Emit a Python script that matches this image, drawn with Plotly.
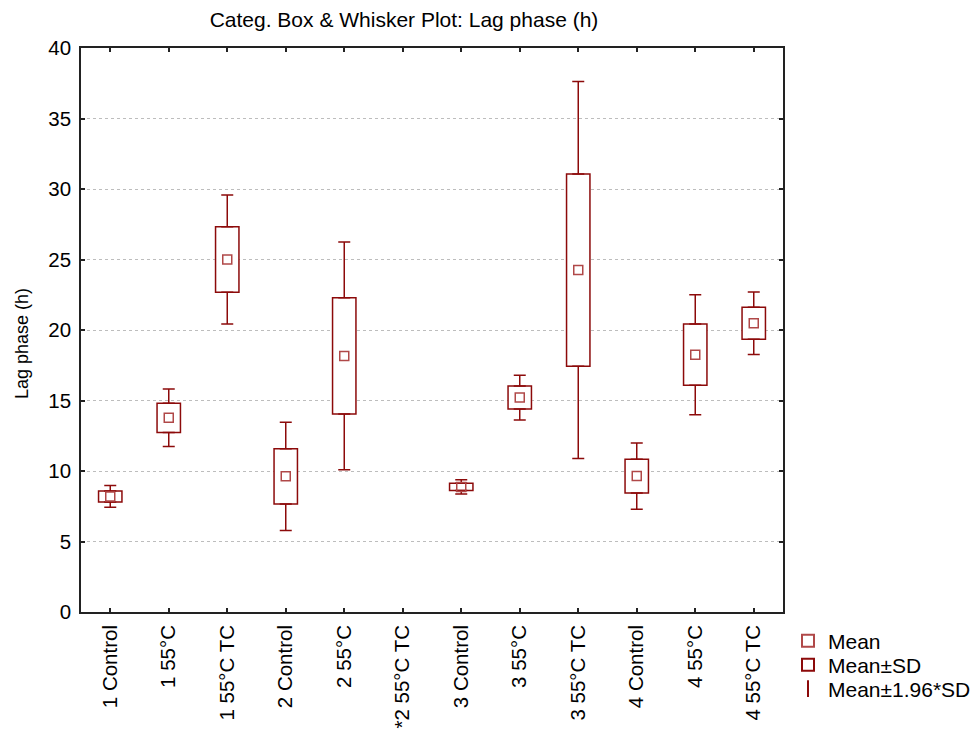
import plotly.graph_objects as go

categories = ["1 Control", "1 55°C", "1 55°C TC", "2 Control", "2 55°C", "*2 55°C TC",
              "3 Control", "3 55°C", "3 55°C TC", "4 Control", "4 55°C", "4 55°C TC"]
means = [8.2, 13.77, 25.0, 9.62, 18.16, None, 8.87, 15.21, 24.25, 9.64, 18.25, 20.48]
sds = [0.39, 1.04, 2.33, 1.96, 4.12, None, 0.26, 0.81, 6.82, 1.20, 2.17, 1.13]
y_ticks = [0, 5, 10, 15, 20, 25, 30, 35, 40]

DARK = "#8c0a0a"
MEANC = "#b04848"
FONT = "Liberation Sans, Arial, sans-serif"

# body margin is removed by the post script, so figure pixels == window pixels
W, H = 971, 737
L, R, T, B = 81, W - 783, 48, H - 612
PW, PH = W - L - R, H - T - B


def ok(v):
    return v is not None


box_base = [m - s if ok(m) else None for m, s in zip(means, sds)]
box_h = [2 * s if ok(s) else None for s in sds]
sd_hi = [m + s if ok(m) else None for m, s in zip(means, sds)]
sd_lo = [m - s if ok(m) else None for m, s in zip(means, sds)]
ext = [0.96 * s if ok(s) else None for s in sds]
zeros = [0 if ok(s) else None for s in sds]

fig = go.Figure()

fig.add_trace(go.Bar(
    x=categories, y=box_h, base=box_base, width=0.4,
    marker=dict(color="white", line=dict(color=DARK, width=1.5)),
    name="Mean±SD", legend="legend2", hoverinfo="skip",
))

fig.add_trace(go.Scatter(
    x=categories + categories, y=sd_hi + sd_lo, mode="markers",
    marker=dict(symbol="line-ns-open", size=0.1, color=DARK, line=dict(color=DARK, width=1.5)),
    error_y=dict(type="data", symmetric=False, array=ext + zeros, arrayminus=zeros + ext,
                 color=DARK, thickness=1.5, width=6),
    name="Mean±1.96*SD", legend="legend3", hoverinfo="skip",
))

fig.add_trace(go.Scatter(
    x=categories, y=means, mode="markers",
    marker=dict(symbol="square-open", size=9, color=MEANC, line=dict(color=MEANC, width=1.5)),
    name="Mean", legend="legend",
))


def leg(yc):
    return dict(x=1 + (788 - (W - R)) / PW, xanchor="left",
                y=((H - B) - yc) / PH, yanchor="middle",
                font=dict(size=21, family=FONT, color="black"),
                itemsizing="constant", bgcolor="rgba(0,0,0,0)")


fig.update_layout(
    width=W, height=H,
    margin=dict(l=L, r=R, t=T, b=B, autoexpand=False),
    paper_bgcolor="white", plot_bgcolor="white",
    font=dict(family=FONT, color="black", size=20),
    title=dict(text="Categ. Box & Whisker Plot: Lag phase (h)", x=404 / W, xanchor="center",
               y=1 - 20 / H, yanchor="middle", yref="container",
               font=dict(size=21, family=FONT, color="black")),
    showlegend=True,
    legend=leg(641),
    legend2=leg(665),
    legend3=leg(689),
)

fig.update_xaxes(
    type="category", categoryorder="array", categoryarray=categories,
    range=[-0.5, len(categories) - 0.5],
    showline=True, linecolor="#222", linewidth=1.6, mirror="ticks",
    ticks="inside", ticklen=4, tickwidth=1.5, tickcolor="#222",
    tickangle=-90, tickfont=dict(size=20.5, family=FONT), showgrid=False,
    ticklabelstandoff=3,
)

fig.update_yaxes(
    range=[0, 40], tickvals=y_ticks, ticktext=[str(v) for v in y_ticks],
    showline=True, linecolor="#222", linewidth=1.6, mirror="ticks",
    ticks="inside", ticklen=4, tickwidth=1.5, tickcolor="#222",
    tickfont=dict(size=20.5, family=FONT), ticklabelstandoff=4,
    showgrid=True, gridcolor="#bdbdbd", griddash="dot", gridwidth=1, zeroline=False,
)

fig.add_annotation(text="Lag phase (h)", textangle=-90, xref="paper", yref="paper",
                   x=-(L - 22) / PW, y=((H - B) - 344) / PH,
                   xanchor="center", yanchor="middle",
                   showarrow=False, font=dict(size=18, family=FONT, color="black"))

fig.write_html(
    "out.html",
    config={"displayModeBar": False},
    post_script="document.body.style.margin='0';document.body.style.overflow='hidden';",
)
